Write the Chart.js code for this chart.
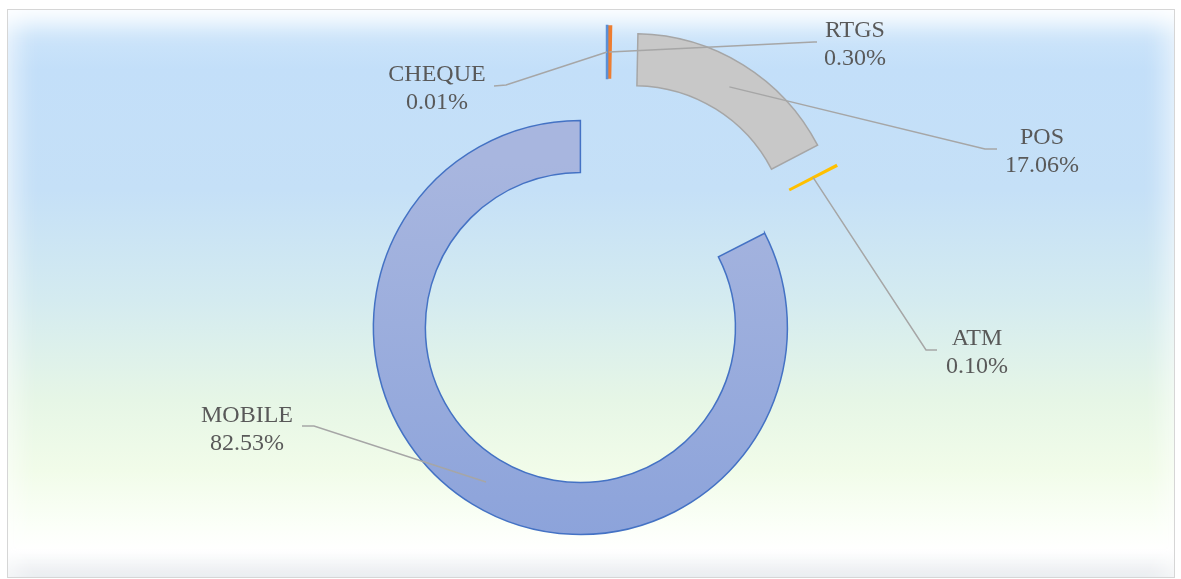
<!DOCTYPE html>
<html>
<head>
<meta charset="utf-8">
<script src="https://cdn.jsdelivr.net/npm/chart.js@4.4.1/dist/chart.umd.min.js"></script>
<style>
  html, body { margin: 0; padding: 0; background: #fff; }
  #wrap { position: relative; width: 1181px; height: 579px; overflow: hidden; }
  #frame {
    position: absolute; left: 7px; top: 9px; width: 1166px; height: 567px;
    border: 1px solid #d6d6d6;
    background: linear-gradient(to bottom, #d2e8fb 0px, #c3dff9 60px, #c5e0f7 180px, #d4ebf0 290px, #e6f6e6 390px, #f1fce9 460px, #fbfff8 515px, #ffffff 540px, #f1f3f5 567px);
    box-shadow: inset 0 28px 22px -14px rgba(255,255,255,0.95),
                inset 26px 0 22px -16px rgba(255,255,255,0.55),
                inset -26px 0 22px -16px rgba(255,255,255,0.55),
                inset 0 -22px 18px -14px rgba(230,233,238,0.7);
  }
  #energy { position: absolute; left: 0; top: 0; }
</style>
</head>
<body>
<div id="wrap">
  <div id="frame"></div>
  <canvas id="energy" width="1181" height="579"></canvas>
</div>
<script>
const categories = ['CHEQUE', 'RTGS', 'POS', 'ATM', 'MOBILE'];
const shares = [0.01, 0.30, 17.06, 0.10, 82.53];

const fillColors = ['#7aa8e0', '#ED7D31', '#c8c8c8', '#FFC000', null];
const lineColors = ['#5b8fd6', '#ED7D31', '#a6a6a6', '#FFC000', '#4472C4'];
const lineWidths = [2.5, 1.5, 1.5, 2, 1.5];

// label placement: text centre x, first baseline y, leader start / elbow
const labelSpots = [
  { x: 437, y: 81, from: [494, 86], elbow: [506, 85] },
  { x: 855, y: 37, from: [817, 42], elbow: [814, 42] },
  { x: 1042, y: 144, from: [997, 149], elbow: [985, 149] },
  { x: 977, y: 345, from: [937, 350], elbow: [926, 350] },
  { x: 247, y: 422, from: [302, 426], elbow: [314, 426] }
];

const explode = 51;

const explodePlugin = {
  id: 'explode',
  beforeDatasetsDraw(chart) {
    const ctx = chart.ctx;
    const arcs = chart.getDatasetMeta(0).data.slice().reverse();
    arcs.forEach(function(arc) {
      const half = (arc.startAngle + arc.endAngle) / 2;
      ctx.save();
      ctx.translate(Math.cos(half) * explode, Math.sin(half) * explode);
      arc.draw(ctx);
      ctx.restore();
    });
    return false;
  },
  afterDraw(chart) {
    const ctx = chart.ctx;
    const meta = chart.getDatasetMeta(0);
    meta.data.forEach(function(arc, i) {
      const half = (arc.startAngle + arc.endAngle) / 2;
      const r = explode + (arc.innerRadius + arc.outerRadius) / 2;
      const px = arc.x + Math.cos(half) * r;
      const py = arc.y + Math.sin(half) * r;
      const spot = labelSpots[i];
      ctx.save();
      ctx.strokeStyle = '#a6a6a6';
      ctx.lineWidth = 1.5;
      ctx.beginPath();
      ctx.moveTo(spot.from[0], spot.from[1]);
      ctx.lineTo(spot.elbow[0], spot.elbow[1]);
      ctx.lineTo(px, py);
      ctx.stroke();
      ctx.fillStyle = '#595959';
      ctx.font = '24px "Liberation Serif", "Times New Roman", serif';
      ctx.textAlign = 'center';
      ctx.textBaseline = 'alphabetic';
      ctx.fillText(categories[i], spot.x, spot.y);
      ctx.fillText(shares[i].toFixed(2) + '%', spot.x, spot.y + 28);
      ctx.restore();
    });
  }
};

const ctx = document.getElementById('energy').getContext('2d');

const chart = new Chart(ctx, {
  type: 'doughnut',
  data: {
    labels: categories,
    datasets: [{
      data: shares,
      backgroundColor: function(c) {
        if (c.dataIndex === 4) {
          const g = c.chart.ctx.createLinearGradient(0, 120, 0, 535);
          g.addColorStop(0, '#a8b6df');
          g.addColorStop(1, '#89a1da');
          return g;
        }
        return fillColors[c.dataIndex];
      },
      borderColor: lineColors,
      borderWidth: lineWidths,
      borderJoinStyle: 'miter'
    }]
  },
  options: {
    responsive: false,
    animation: false,
    events: [],
    radius: 207,
    cutout: '74.9%',
    layout: { padding: { left: 33, right: 0, top: 0, bottom: 11 } },
    plugins: {
      legend: { display: false },
      tooltip: { enabled: false }
    }
  },
  plugins: [explodePlugin]
});
</script>
</body>
</html>
